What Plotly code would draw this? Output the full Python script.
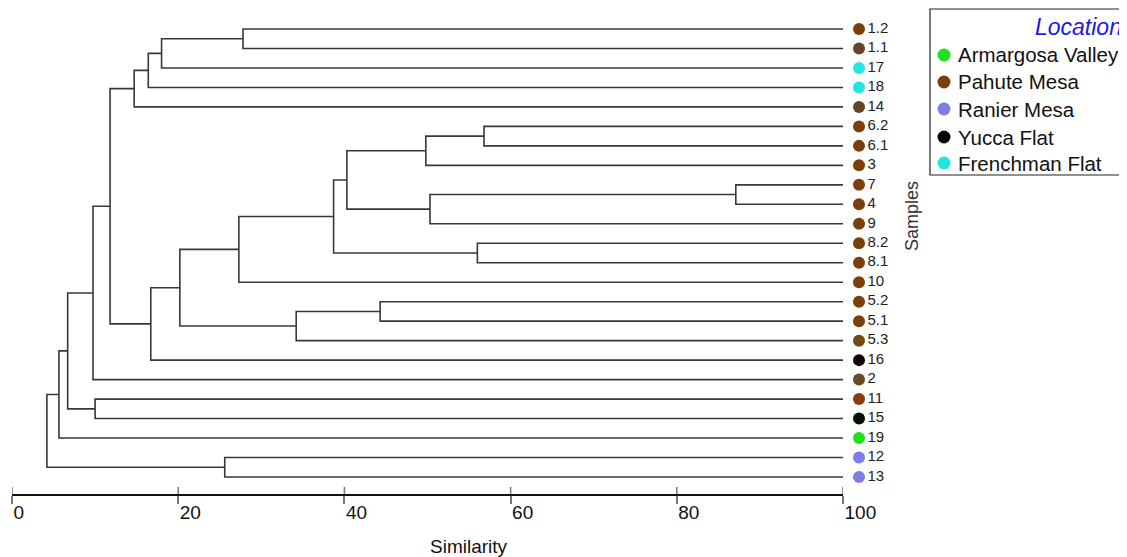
import plotly.graph_objects as go

# ---------------- data ----------------
leaf_labels = ["1.2", "1.1", "17", "18", "14", "6.2", "6.1", "3", "7", "4", "9",
               "8.2", "8.1", "10", "5.2", "5.1", "5.3", "16", "2", "11", "15",
               "19", "12", "13"]
leaf_location = ["Pahute Mesa", "Pahute Mesa", "Frenchman Flat", "Frenchman Flat",
                 "Pahute Mesa", "Pahute Mesa", "Pahute Mesa", "Pahute Mesa",
                 "Pahute Mesa", "Pahute Mesa", "Pahute Mesa", "Pahute Mesa",
                 "Pahute Mesa", "Pahute Mesa", "Pahute Mesa", "Pahute Mesa",
                 "Pahute Mesa", "Yucca Flat", "Pahute Mesa", "Pahute Mesa",
                 "Yucca Flat", "Armargosa Valley", "Ranier Mesa", "Ranier Mesa"]

# linkage: merge i joins merge_left[i] and merge_right[i] at merge_similarity[i]
merge_left = ["1.2", "m0", "m1", "m2", "6.2", "m4", "7", "m6", "m5", "8.2", "m8",
              "m10", "5.2", "m12", "m11", "m14", "m3", "m16", "11", "m17", "m19",
              "12", "m20"]
merge_right = ["1.1", "17", "18", "14", "6.1", "3", "4", "9", "m7", "8.1", "m9",
               "10", "5.1", "5.3", "m13", "16", "m15", "2", "15", "m18", "19",
               "13", "m21"]
merge_similarity = [27.8, 18.0, 16.4, 14.7, 56.8, 49.8, 87.1, 50.3, 40.3, 56.0, 38.7,
                    27.3, 44.3, 34.2, 20.2, 16.7, 11.8, 9.75, 10.0, 6.7, 5.65,
                    25.6, 4.2]

locations = ["Armargosa Valley", "Pahute Mesa", "Ranier Mesa", "Yucca Flat",
             "Frenchman Flat"]

tick_values = [0, 20, 40, 60, 80, 100]
tick_labels = ["0", "20", "40", "60", "80", "100"]

# ---------------- style ----------------
loc_color = {"Armargosa Valley": "#1fe01f", "Pahute Mesa": "#7b3f0b",
             "Ranier Mesa": "#7d7de6", "Yucca Flat": "#050505",
             "Frenchman Flat": "#22e6e2"}
leaf_color_override = {"1.1": "#654628", "14": "#664427", "5.3": "#6f4c12",
                       "2": "#6b4a22", "11": "#8a3b10", "16": "#120202",
                       "15": "#031203"}
leaf_colors = [leaf_color_override.get(l, loc_color[loc])
               for l, loc in zip(leaf_labels, leaf_location)]

LINE = "#383838"
FONT = "Liberation Sans, Arial, sans-serif"

# ---------------- build dendrogram coordinates ----------------
pos = {}
for i, l in enumerate(leaf_labels):
    pos[l] = (100.0, float(i))

xs, ys = [], []
for i, (a, b, s) in enumerate(zip(merge_left, merge_right, merge_similarity)):
    xa, ya = pos[a]
    xb, yb = pos[b]
    xs += [xa, s, s, xb, None]
    ys += [ya, ya, yb, yb, None]
    pos["m%d" % i] = (s, (ya + yb) / 2.0)

n = len(leaf_labels)

fig = go.Figure()
fig.add_trace(go.Scatter(x=xs, y=ys, mode="lines",
                         line=dict(color=LINE, width=1.6),
                         hoverinfo="skip", showlegend=False))

# leaf markers + labels in a narrow side panel sharing the y axis
fig.add_trace(go.Scatter(
    x=[11] * n, y=list(range(n)), xaxis="x2", yaxis="y",
    mode="markers+text", text=leaf_labels, textposition="middle right",
    textfont=dict(family=FONT, size=15, color="#222"),
    marker=dict(size=12, color=leaf_colors, line=dict(width=0)),
    cliponaxis=False, showlegend=False, hoverinfo="skip"))

# ---------------- layout ----------------
OFF = 8  # page body offset
W, H = 1127 - OFF, 557 - OFF
L, T = 12 - OFF, 10 - OFF
R = 0
B = H - (494 - OFF)
pw, ph = W - L - R, H - T - B


def px_x(p):
    return (p - OFF - L) / pw


def px_y(p):
    return (H - B - (p - OFF)) / ph


top_pad = (29 - 10) / 19.478
bot_pad = (494 - 477) / 19.478

fig.update_layout(
    width=W, height=H,
    margin=dict(l=L, r=R, t=T, b=B, autoexpand=False),
    paper_bgcolor="white", plot_bgcolor="rgba(0,0,0,0)",
    showlegend=False,
    xaxis=dict(domain=[0, px_x(843)], range=[0, 100],
               tickvals=tick_values, ticktext=tick_labels,
               showgrid=False, zeroline=False, showline=True,
               linecolor="#111", linewidth=1.5,
               ticks="outside", ticklen=8, tickwidth=1.5, tickcolor="#777",
               ticklabelposition="outside right",
               tickfont=dict(family=FONT, size=19, color="#111")),
    xaxis2=dict(domain=[px_x(848), px_x(888)], range=[0, 40], anchor="y",
                visible=False, showgrid=False, zeroline=False),
    yaxis=dict(range=[n - 1 + bot_pad, -top_pad], visible=False,
               showgrid=False, zeroline=False),
)

annotations = [
    dict(text="Similarity", x=px_x(469), y=px_y(546), xref="paper", yref="paper",
         showarrow=False, xanchor="center", yanchor="middle",
         font=dict(family=FONT, size=19, color="#111")),
    dict(text="Samples", x=px_x(912), y=px_y(216), xref="paper", yref="paper",
         showarrow=False, textangle=-90, xanchor="center", yanchor="middle",
         font=dict(family=FONT, size=18, color="#333")),
    dict(text="<i>Location</i>", x=px_x(1033), y=px_y(27), xref="paper", yref="paper",
         showarrow=False, xanchor="left", yanchor="middle",
         font=dict(family=FONT, size=23, color="#1a1ae8")),
]

# upper halves of the axis ticks (ticks cross the axis line)
shapes = []
for tv in tick_values:
    shapes.append(dict(type="line", xref="x", yref="paper", ysizemode="pixel",
                       yanchor=0, x0=tv, x1=tv, y0=0, y1=7,
                       line=dict(color="#777", width=1.5)))

shapes.append(dict(type="rect", xref="paper", yref="paper",
                   x0=px_x(930), x1=px_x(1140), y0=px_y(175), y1=px_y(9),
                   line=dict(color="#222", width=1.2), fillcolor="white",
                   layer="below"))

item_y = [55, 82, 109, 137, 163]
for loc, yy in zip(locations, item_y):
    shapes.append(dict(type="circle", xref="paper", yref="paper",
                       xsizemode="pixel", ysizemode="pixel",
                       xanchor=px_x(944), yanchor=px_y(yy),
                       x0=-6.5, x1=6.5, y0=-6.5, y1=6.5,
                       fillcolor=loc_color[loc], line=dict(width=0)))
    annotations.append(dict(text=loc, x=px_x(956), y=px_y(yy), xref="paper",
                            yref="paper", showarrow=False, xanchor="left",
                            yanchor="middle",
                            font=dict(family=FONT, size=20.5, color="#111")))

fig.update_layout(annotations=annotations, shapes=shapes)

fig.write_html("out.html")
